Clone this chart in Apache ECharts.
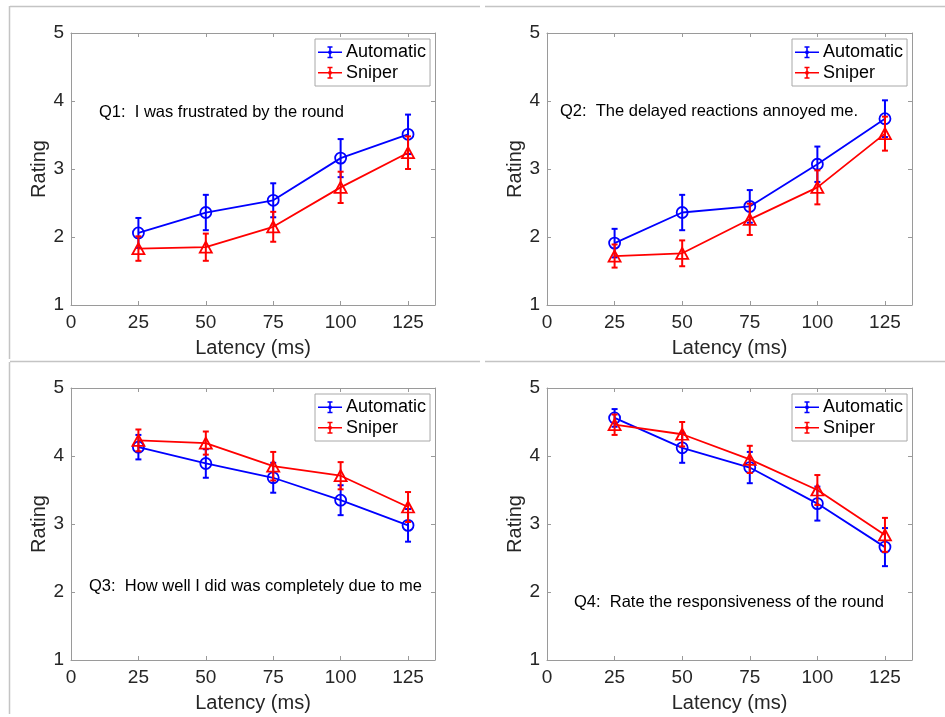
<!DOCTYPE html>
<html>
<head>
<meta charset="utf-8">
<script src="https://cdn.jsdelivr.net/npm/echarts@6/dist/echarts.min.js"></script>
<style>
  html, body { margin: 0; padding: 0; background: #fff; }
  #chart { width: 945px; height: 717px; }
</style>
</head>
<body>
<div id="chart"></div>
<script>
// Latency conditions (ms)
const latency = [25, 50, 75, 100, 125];
const xTicks = [0, 25, 50, 75, 100, 125];
const yTicks = [1, 2, 3, 4, 5];
const seriesNames = ['Automatic', 'Sniper'];

// Mean ratings and error-bar half-widths per question
const q1Auto = [2.06, 2.36, 2.54, 3.16, 3.51];
const q1AutoErr = [0.22, 0.26, 0.25, 0.28, 0.29];
const q1Snip = [1.83, 1.85, 2.15, 2.73, 3.24];
const q1SnipErr = [0.18, 0.20, 0.22, 0.23, 0.24];

const q2Auto = [1.91, 2.36, 2.45, 3.07, 3.74];
const q2AutoErr = [0.21, 0.26, 0.24, 0.26, 0.27];
const q2Snip = [1.72, 1.76, 2.26, 2.73, 3.52];
const q2SnipErr = [0.17, 0.19, 0.23, 0.25, 0.25];

const q3Auto = [4.13, 3.89, 3.68, 3.35, 2.98];
const q3AutoErr = [0.18, 0.21, 0.22, 0.22, 0.24];
const q3Snip = [4.23, 4.19, 3.85, 3.71, 3.25];
const q3SnipErr = [0.16, 0.17, 0.21, 0.20, 0.22];

const q4Auto = [4.56, 4.12, 3.83, 3.30, 2.66];
const q4AutoErr = [0.13, 0.22, 0.23, 0.25, 0.28];
const q4Snip = [4.46, 4.32, 3.95, 3.50, 2.84];
const q4SnipErr = [0.15, 0.18, 0.20, 0.22, 0.25];

const questions = [
  'Q1:  I was frustrated by the round',
  'Q2:  The delayed reactions annoyed me.',
  'Q3:  How well I did was completely due to me',
  'Q4:  Rate the responsiveness of the round'
];

const FONT = '"Liberation Sans", Arial, Helvetica, sans-serif';
const BLUE = '#0000ff';
const RED = '#ff0000';
const AXIS = '#9a9a9a';
const TEXT = '#262626';
const FRAME = '#c4c4c4';

// Layout of the four panels (plot-area boxes and annotation anchors)
const panels = [
  { left: 71,  top: 33,  width: 364, auto: q1Auto, autoErr: q1AutoErr, snip: q1Snip, snipErr: q1SnipErr, textX: 99,  textY: 114 },
  { left: 547, top: 33,  width: 365, auto: q2Auto, autoErr: q2AutoErr, snip: q2Snip, snipErr: q2SnipErr, textX: 560, textY: 113 },
  { left: 71,  top: 388, width: 364, auto: q3Auto, autoErr: q3AutoErr, snip: q3Snip, snipErr: q3SnipErr, textX: 89,  textY: 588 },
  { left: 547, top: 388, width: 365, auto: q4Auto, autoErr: q4AutoErr, snip: q4Snip, snipErr: q4SnipErr, textX: 574, textY: 604 }
];
const PLOT_H = 272;

// Legend glyph: line with a capped error bar and a dot
const legendIcon = 'path://M0,5.2L24,5.2L24,6.8L0,6.8Z' +
  'M11.2,0L12.8,0L12.8,12L11.2,12Z' +
  'M9.5,0L14.5,0L14.5,1.5L9.5,1.5Z' +
  'M9.5,10.5L14.5,10.5L14.5,12L9.5,12Z' +
  'M10,6A2,2 0 1,1 14,6A2,2 0 1,1 10,6Z';

function errorBarSeries(name, xIdx, yIdx, values, errs, color, z) {
  return {
    type: 'custom',
    name: name,
    xAxisIndex: xIdx,
    yAxisIndex: yIdx,
    z: z,
    silent: true,
    data: latency.map((x, i) => [x, values[i], errs[i]]),
    renderItem: function (params, api) {
      const x = api.value(0), y = api.value(1), e = api.value(2);
      const hi = api.coord([x, y + e]);
      const lo = api.coord([x, y - e]);
      const cap = 3;
      const st = { stroke: color, lineWidth: 2 };
      return {
        type: 'group',
        children: [
          { type: 'line', shape: { x1: hi[0], y1: hi[1], x2: lo[0], y2: lo[1] }, style: st },
          { type: 'line', shape: { x1: hi[0] - cap, y1: hi[1], x2: hi[0] + cap, y2: hi[1] }, style: st },
          { type: 'line', shape: { x1: lo[0] - cap, y1: lo[1], x2: lo[0] + cap, y2: lo[1] }, style: st }
        ]
      };
    }
  };
}

function lineSeries(name, xIdx, yIdx, values, color, symbol, size, z) {
  return {
    type: 'line',
    name: name,
    xAxisIndex: xIdx,
    yAxisIndex: yIdx,
    z: z,
    silent: true,
    data: latency.map((x, i) => [x, values[i]]),
    symbol: symbol,
    symbolSize: size,
    showAllSymbol: true,
    lineStyle: { color: color, width: 1.8 },
    itemStyle: { color: 'rgba(0,0,0,0)', borderColor: color, borderWidth: 1.8 },
    emphasis: { disabled: true }
  };
}

const grids = [], xAxes = [], yAxes = [], series = [], legends = [], graphics = [];

panels.forEach((p, k) => {
  grids.push({ left: p.left, top: p.top, width: p.width, height: PLOT_H, containLabel: false });
  const common = { gridIndex: k, type: 'value', splitLine: { show: false } };
  const tick = { show: true, inside: true, length: 4, lineStyle: { color: AXIS, width: 1 } };
  const line = { show: true, onZero: false, lineStyle: { color: AXIS, width: 1 } };
  // bottom and top x axes
  xAxes.push(Object.assign({}, common, {
    position: 'bottom', min: xTicks[0], max: 135, interval: 25,
    axisLine: line, axisTick: tick,
    axisLabel: { showMaxLabel: false, fontSize: 19, color: TEXT, margin: 8, fontFamily: FONT },
    name: 'Latency (ms)', nameLocation: 'middle', nameGap: 33,
    nameTextStyle: { fontSize: 20, color: TEXT, fontFamily: FONT }
  }));
  xAxes.push(Object.assign({}, common, {
    position: 'top', min: xTicks[0], max: 135, interval: 25,
    axisLine: line, axisTick: tick, axisLabel: { show: false }
  }));
  // left and right y axes
  yAxes.push(Object.assign({}, common, {
    position: 'left', min: yTicks[0], max: yTicks[yTicks.length - 1], interval: 1,
    axisLine: line, axisTick: tick,
    axisLabel: { fontSize: 19, color: TEXT, margin: 7, fontFamily: FONT },
    name: 'Rating', nameLocation: 'middle', nameGap: 18, nameRotate: 90,
    nameTextStyle: { fontSize: 20, color: TEXT, fontFamily: FONT }
  }));
  yAxes.push(Object.assign({}, common, {
    position: 'right', min: yTicks[0], max: yTicks[yTicks.length - 1], interval: 1,
    axisLine: line, axisTick: tick, axisLabel: { show: false }
  }));

  const xi = 2 * k, yi = 2 * k;
  series.push(errorBarSeries(seriesNames[0], xi, yi, p.auto, p.autoErr, BLUE, 2));
  series.push(lineSeries(seriesNames[0], xi, yi, p.auto, BLUE, 'circle', 11, 3));
  series.push(errorBarSeries(seriesNames[1], xi, yi, p.snip, p.snipErr, RED, 4));
  series.push(lineSeries(seriesNames[1], xi, yi, p.snip, RED, 'triangle', [12, 11], 5));

  legends.push({
    orient: 'vertical',
    left: p.left + p.width - 6 - 114,
    top: p.top + 6,
    width: 114,
    padding: [3, 4, 3, 3],
    itemGap: 0,
    itemWidth: 24,
    itemHeight: 12,
    backgroundColor: '#fff',
    borderColor: '#a8a8a8',
    borderWidth: 1,
    selectedMode: false,
    icon: legendIcon,
    itemStyle: { borderWidth: 0 },
    textStyle: { fontSize: 18, color: '#000', fontFamily: FONT, lineHeight: 20.5, padding: [0, 0, 0, -1] },
    data: [
      { name: seriesNames[0], itemStyle: { color: BLUE, borderWidth: 0 } },
      { name: seriesNames[1], itemStyle: { color: RED, borderWidth: 0 } }
    ]
  });

  graphics.push({
    type: 'text', left: p.textX, top: p.textY - 10, z: 10,
    style: { text: questions[k], fontSize: 16.5, fill: '#000', font: '16.5px ' + FONT }
  });
});

// Thin frame lines separating the panels
const frameSegs = [
  [10, 6.5, 480, 6.5], [485, 6.5, 945, 6.5],
  [10, 361.5, 480, 361.5], [485, 361.5, 945, 361.5],
  [9.5, 6, 9.5, 359], [9.5, 362, 9.5, 714]
];
frameSegs.forEach(s => {
  graphics.push({
    type: 'line', z: 0, silent: true,
    shape: { x1: s[0], y1: s[1], x2: s[2], y2: s[3] },
    style: { stroke: FRAME, lineWidth: 1.5 }
  });
});

const chart = echarts.init(document.getElementById('chart'), null, { renderer: 'canvas' });
chart.setOption({
  animation: false,
  backgroundColor: '#fff',
  textStyle: { fontFamily: FONT },
  grid: grids,
  xAxis: xAxes,
  yAxis: yAxes,
  legend: legends,
  series: series,
  graphic: graphics
});
</script>
</body>
</html>
